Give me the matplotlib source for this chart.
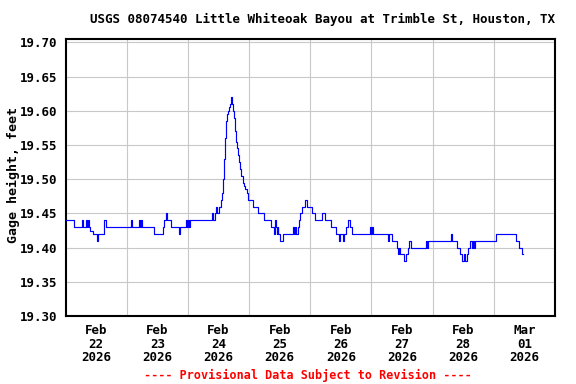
import datetime as dt
import matplotlib
matplotlib.use("Agg")
import matplotlib.pyplot as plt
import matplotlib.dates as mdates

# Hours since 2026-02-22 00:00 and gage height (ft) at each level change
hours = [0.0, 3.4, 6.5, 6.9, 8.1, 8.6, 8.9, 9.3, 9.8, 10.9, 12.3, 12.8, 15.0, 15.8,
         25.5, 25.9, 28.9, 29.3, 29.7, 30.2, 34.9, 38.4, 38.8, 39.6, 40.0, 41.5,
         44.5, 44.9, 47.3, 47.7, 48.1, 48.5, 48.9, 57.4, 57.8, 58.7, 58.9, 59.4,
         60.4, 61.0, 61.3, 61.6, 61.8, 62.0, 62.2, 62.4, 62.6, 62.8, 63.0, 63.3,
         63.7, 64.1, 64.5, 64.8, 65.0, 65.3, 65.6, 65.9, 66.3, 66.6, 66.9, 67.3,
         67.6, 68.0, 68.5, 69.0, 69.6, 70.0, 70.5, 71.0, 71.4, 73.5, 75.6, 77.9,
         80.5, 81.6, 82.2, 82.5, 82.9, 83.3, 83.5, 84.0, 85.2, 89.4, 89.7, 90.0,
         90.3, 91.0, 91.5, 92.0, 92.8, 94.0, 94.7, 96.6, 97.9, 100.6, 101.9, 104.1,
         106.2, 107.4, 107.8, 109.0, 109.4, 110.2, 110.7, 111.4, 112.4, 119.4, 119.7,
         120.4, 120.8, 126.5, 126.9, 128.2, 129.9, 130.4, 130.9, 131.3, 132.6, 133.7,
         134.2, 134.8, 135.5, 141.4, 141.8, 142.2, 151.1, 151.6, 153.5, 154.6, 155.4,
         156.2, 156.6, 157.3, 157.9, 158.6, 159.3, 159.7, 160.1, 160.6, 168.9, 176.6,
         177.9, 179.2, 179.6]
gage = [19.44, 19.43, 19.44, 19.43, 19.44, 19.43, 19.44, 19.43, 19.425, 19.42, 19.41, 19.42, 19.44, 19.43,
        19.44, 19.43, 19.44, 19.43, 19.44, 19.43, 19.42, 19.43, 19.44, 19.45, 19.44, 19.43,
        19.42, 19.43, 19.44, 19.43, 19.44, 19.43, 19.44, 19.45, 19.44, 19.45, 19.46, 19.45,
        19.46, 19.47, 19.48, 19.49, 19.50, 19.51, 19.53, 19.545, 19.56, 19.575, 19.585, 19.595,
        19.60, 19.605, 19.61, 19.615, 19.62, 19.61, 19.60, 19.59, 19.58, 19.57, 19.555, 19.545,
        19.535, 19.525, 19.515, 19.505, 19.495, 19.49, 19.485, 19.48, 19.47, 19.46, 19.45, 19.44,
        19.43, 19.42, 19.44, 19.43, 19.42, 19.43, 19.42, 19.41, 19.42, 19.43, 19.42, 19.43,
        19.42, 19.43, 19.44, 19.45, 19.46, 19.47, 19.46, 19.45, 19.44, 19.45, 19.44, 19.43,
        19.42, 19.41, 19.42, 19.41, 19.42, 19.43, 19.44, 19.43, 19.42, 19.43, 19.42,
        19.43, 19.42, 19.41, 19.42, 19.41, 19.40, 19.39, 19.40, 19.39, 19.38, 19.39,
        19.40, 19.41, 19.40, 19.41, 19.40, 19.41, 19.42, 19.41, 19.40, 19.39, 19.38,
        19.39, 19.38, 19.39, 19.40, 19.41, 19.40, 19.41, 19.40, 19.41, 19.42, 19.41,
        19.40, 19.39, 19.39]

title = "USGS 08074540 Little Whiteoak Bayou at Trimble St, Houston, TX"
ylabel = "Gage height, feet"
footer = "---- Provisional Data Subject to Revision ----"
yticks = [19.30, 19.35, 19.40, 19.45, 19.50, 19.55, 19.60, 19.65, 19.70]
day_labels = ["Feb\n22\n2026", "Feb\n23\n2026", "Feb\n24\n2026", "Feb\n25\n2026",
              "Feb\n26\n2026", "Feb\n27\n2026", "Feb\n28\n2026", "Mar\n01\n2026"]

base = dt.datetime(2026, 2, 22)
times = [base + dt.timedelta(hours=h) for h in hours]

FONT = "DejaVu Sans Mono"
fig = plt.figure(figsize=(5.76, 3.84), dpi=100)
ax = fig.add_axes([65.5 / 576, 1 - 316 / 384, (555 - 65.5) / 576, (316 - 39) / 384])

ax.plot(times, gage, color="#0000ff", lw=0.85, drawstyle="steps-post", zorder=3)

ax.set_xlim(base, base + dt.timedelta(days=8))
ax.set_ylim(19.30, 19.705)
ax.set_yticks(yticks)
ax.set_yticklabels([f"{v:.2f}" for v in yticks], fontfamily=FONT, fontweight="bold", fontsize=9)

noons = [base + dt.timedelta(days=d, hours=12) for d in range(8)]
mids = [base + dt.timedelta(days=d) for d in range(1, 8)]
ax.set_xticks(noons)
ax.set_xticklabels(day_labels, fontfamily=FONT, fontweight="bold", fontsize=9, linespacing=1.05)
ax.set_xticks(mids, minor=True)
ax.tick_params(axis="both", which="both", length=0)
ax.tick_params(axis="x", pad=6)
ax.tick_params(axis="y", pad=6)

ax.grid(False)
ax.grid(True, which="minor", axis="x", color="#c8c8c8", lw=0.8)
ax.grid(True, which="major", axis="y", color="#c8c8c8", lw=0.8)
for s in ax.spines.values():
    s.set_linewidth(1.5)
    s.set_color("black")

fig.text(322 / 576, 1 - 19 / 384, title, ha="center", va="center",
         fontfamily=FONT, fontweight="bold", fontsize=9)
fig.text(13 / 576, 1 - 175 / 384, ylabel, ha="center", va="center", rotation=90,
         fontfamily=FONT, fontweight="bold", fontsize=9.5)
fig.text(308 / 576, 1 - 375 / 384, footer, ha="center", va="center", color="#ff0000",
         fontfamily=FONT, fontweight="bold", fontsize=8.5)

fig.savefig("out.png", dpi=100)
